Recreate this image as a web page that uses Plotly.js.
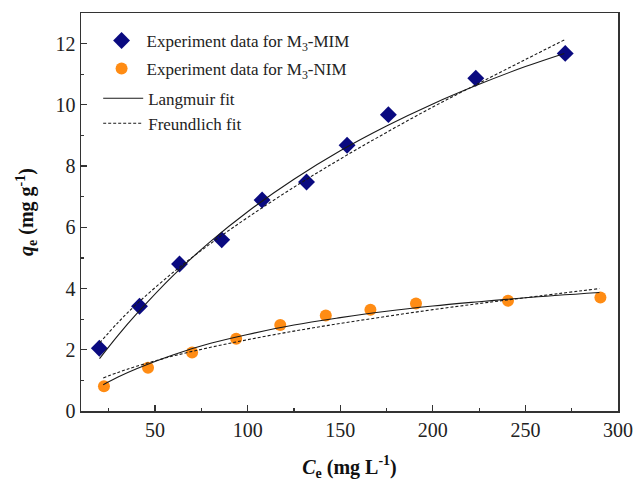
<!DOCTYPE html>
<html>
<head>
<meta charset="utf-8">
<script src="https://cdn.plot.ly/plotly-3.0.1.min.js"></script>
<style>html,body{margin:0;padding:0;background:#fff;}#chart{width:636px;height:487px;}</style>
</head>
<body>
<div id="chart"></div>
<script>
// Experimental data, M3-MIM
const mimCe = [19.9, 41.6, 63.2, 86.0, 107.8, 131.8, 153.7, 176.0, 223.2, 271.5];
const mimQe = [2.05, 3.42, 4.80, 5.59, 6.89, 7.48, 8.68, 9.68, 10.87, 11.68];
// Experimental data, M3-NIM
const nimCe = [22.4, 46.2, 70.0, 93.8, 117.6, 142.2, 166.3, 190.9, 240.6, 290.5];
const nimQe = [0.81, 1.41, 1.91, 2.36, 2.81, 3.12, 3.31, 3.51, 3.60, 3.71];
// Fit curves
const mimFitCe = [20, 30, 40, 60, 80, 100, 125, 150, 175, 200, 225, 250, 271];
const mimLangmuir = [1.71, 2.47, 3.17, 4.44, 5.54, 6.51, 7.57, 8.50, 9.31, 10.03, 10.67, 11.25, 11.68];
const mimFreundlich = [2.22, 2.89, 3.49, 4.54, 5.47, 6.32, 7.31, 8.23, 9.10, 9.93, 10.71, 11.48, 12.12];
const nimFitCe = [22, 30, 40, 60, 80, 100, 125, 150, 175, 200, 225, 250, 290];
const nimLangmuir = [0.86, 1.11, 1.38, 1.84, 2.21, 2.50, 2.81, 3.05, 3.26, 3.43, 3.57, 3.70, 3.87];
const nimFreundlich = [1.08, 1.26, 1.46, 1.80, 2.08, 2.33, 2.61, 2.86, 3.09, 3.31, 3.51, 3.70, 4.00];

const serif = "'Liberation Serif', 'Times New Roman', serif";
const fitLine = {color: '#1a1a1a', width: 1.1, shape: 'spline'};
const fitDash = {color: '#1a1a1a', width: 1.1, dash: '3px,2px', shape: 'spline'};

const traces = [
  {x: mimCe, y: mimQe, type: 'scatter', mode: 'markers', name: 'Experiment data for M<sub>3</sub>-MIM',
   marker: {symbol: 'diamond', size: 13, color: '#0a0a80'}, legend: 'legend', legendgroup: 'a'},
  {x: nimCe, y: nimQe, type: 'scatter', mode: 'markers', name: 'Experiment data for M<sub>3</sub>-NIM',
   marker: {symbol: 'circle', size: 12, color: '#ff8c14'}, legend: 'legend', legendgroup: 'b'},
  {x: mimFitCe, y: mimLangmuir, type: 'scatter', mode: 'lines', name: 'Langmuir fit', line: fitLine,
   legend: 'legend2', legendgroup: 'c'},
  {x: mimFitCe, y: mimFreundlich, type: 'scatter', mode: 'lines', name: 'Freundlich fit', line: fitDash,
   legend: 'legend2', legendgroup: 'd'},
  {x: nimFitCe, y: nimLangmuir, type: 'scatter', mode: 'lines', line: fitLine, showlegend: false},
  {x: nimFitCe, y: nimFreundlich, type: 'scatter', mode: 'lines', line: fitDash, showlegend: false}
];

const axisCommon = {
  showline: true, mirror: true, linecolor: '#333', linewidth: 1.5,
  ticks: 'inside', ticklen: 6, tickwidth: 1.2, tickcolor: '#333',
  showgrid: false, zeroline: false,
  tickfont: {family: serif, size: 20, color: '#222'},
  minor: {ticks: 'inside', ticklen: 3, tickwidth: 1.2, tickcolor: '#333', showgrid: false}
};

const layout = {
  width: 636, height: 487,
  margin: {l: 81, r: 18, t: 13, b: 76},
  paper_bgcolor: '#fff', plot_bgcolor: '#fff',
  showlegend: true,
  xaxis: Object.assign({}, axisCommon, {
    range: [10, 300], tickvals: [50, 100, 150, 200, 250, 300],
    minor: Object.assign({}, axisCommon.minor, {tickvals: [25, 75, 125, 175, 225, 275]}),
    title: {text: '<b><i>C</i><sub>e</sub> (mg L<sup>-1</sup>)</b>', font: {family: serif, size: 20, color: '#111'}, standoff: 20}
  }),
  yaxis: Object.assign({}, axisCommon, {
    range: [0, 13], tickvals: [0, 2, 4, 6, 8, 10, 12],
    minor: Object.assign({}, axisCommon.minor, {tickvals: [1, 3, 5, 7, 9, 11]}),
    title: {text: '<b><i>q</i><sub>e</sub> (mg g<sup>-1</sup>)</b>', font: {family: serif, size: 20, color: '#111'}, standoff: 16}
  }),
  legend: {
    x: 0.029, y: 0.975, xanchor: 'left', yanchor: 'top',
    bgcolor: 'rgba(0,0,0,0)', borderwidth: 0,
    font: {family: serif, size: 17, color: '#222'},
    tracegroupgap: 3, itemwidth: 40
  },
  legend2: {
    x: 0.032, y: 0.83, xanchor: 'left', yanchor: 'top',
    bgcolor: 'rgba(0,0,0,0)', borderwidth: 0,
    font: {family: serif, size: 17, color: '#222'},
    tracegroupgap: 0, itemwidth: 40
  }
};

Plotly.newPlot('chart', traces, layout, {displayModeBar: false, staticPlot: true});
</script>
</body>
</html>
